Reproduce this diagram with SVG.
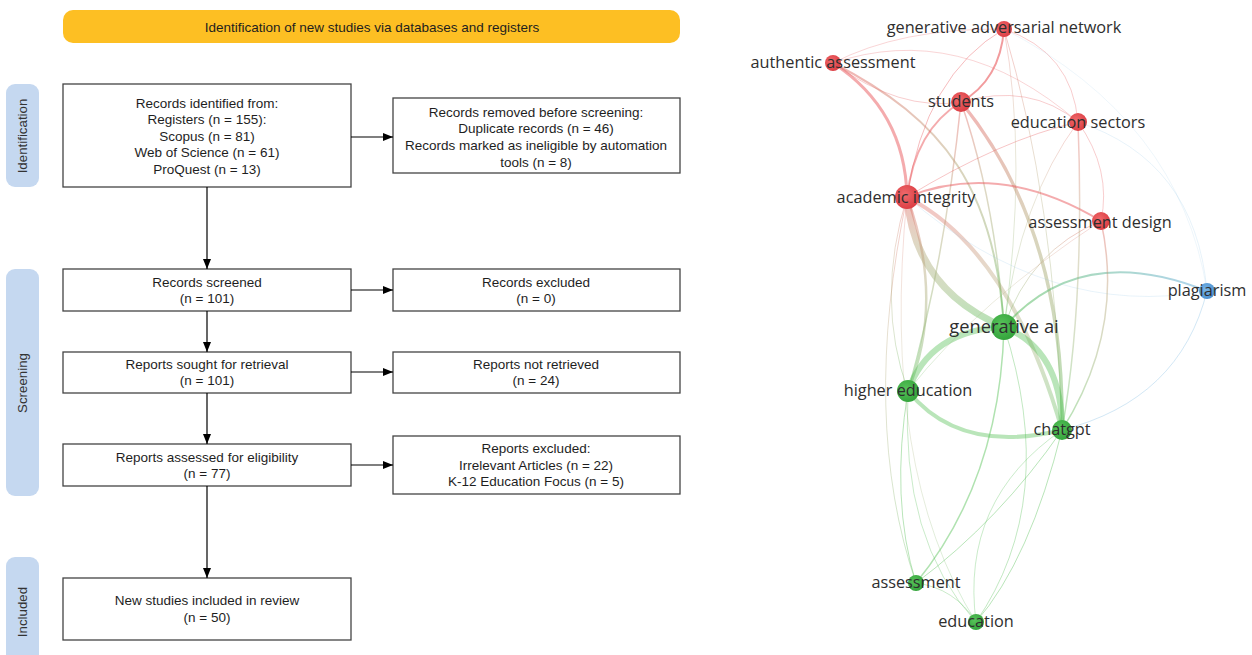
<svg xmlns="http://www.w3.org/2000/svg" width="1252" height="655" viewBox="0 0 1252 655">
<defs>
<marker id="ah" viewBox="0 0 10 10" refX="10" refY="5" markerWidth="10" markerHeight="10" markerUnits="userSpaceOnUse" orient="auto">
<path d="M0,1 L10,5 L0,9 Z" fill="#000"/>
</marker>
<radialGradient id="gr" cx="0.4" cy="0.4" r="0.6"><stop offset="0" stop-color="#f06a6c"/><stop offset="1" stop-color="#dc3f45"/></radialGradient>
<radialGradient id="gg" cx="0.4" cy="0.4" r="0.6"><stop offset="0" stop-color="#58c35a"/><stop offset="1" stop-color="#34a43c"/></radialGradient>
<radialGradient id="gb" cx="0.4" cy="0.4" r="0.6"><stop offset="0" stop-color="#78b4e6"/><stop offset="1" stop-color="#4d92d0"/></radialGradient>
<linearGradient id="rg" x1="0" y1="0" x2="0" y2="1"><stop offset="0" stop-color="#e46a68"/><stop offset="0.35" stop-color="#b9a77c"/><stop offset="0.7" stop-color="#9bb477"/><stop offset="1" stop-color="#5cbf5a"/></linearGradient>
<linearGradient id="gt" x1="0" y1="0" x2="1" y2="0"><stop offset="0" stop-color="#5cbf5a"/><stop offset="1" stop-color="#6fb1e0"/></linearGradient>
</defs>
<style>
.box{fill:#fff;stroke:#444;stroke-width:1.3}
.bt{font-family:"Liberation Sans",Arial,sans-serif;font-size:13.5px;fill:#1e1e1e;text-anchor:middle}
.pill{fill:#c5d8f0}
.pt{font-family:"Liberation Sans",Arial,sans-serif;font-size:13.3px;fill:#333;text-anchor:middle}
.ar{stroke:#000;stroke-width:1.2;fill:none;marker-end:url(#ah)}
.e{fill:none;stroke-linecap:round}
.r{stroke:#e9585c}
.g{stroke:#4fbe50}
.m{stroke:url(#rg)}
.t{stroke:url(#gt)}
.b{stroke:#8ec4e6}
.lab{font-family:"Open Sans","Noto Sans",sans-serif;font-size:16.3px;fill:#2e2e2e;text-anchor:middle}
</style>
<rect width="1252" height="655" fill="#fff"/>

<!-- PRISMA -->
<g id="banner">
<rect x="63" y="10" width="617" height="33" rx="10" fill="#fdbf23"/>
<text class="bt" x="372" y="32">Identification of new studies via databases and registers</text>
</g>
<g id="phase-identification">
<rect class="pill" x="6" y="84" width="33" height="103" rx="9"/>
<text class="pt" transform="translate(27,136) rotate(-90)">Identification</text>
</g>
<g id="phase-screening">
<rect class="pill" x="6" y="269" width="33" height="227" rx="9"/>
<text class="pt" transform="translate(27,383) rotate(-90)">Screening</text>
</g>
<g id="phase-included">
<rect class="pill" x="6" y="557" width="33" height="110" rx="9"/>
<text class="pt" transform="translate(27,612) rotate(-90)">Included</text>
</g>

<g id="records-identified">
<rect class="box" x="63" y="84" width="288" height="103"/>
<text class="bt" x="207" y="108">Records identified from:</text>
<text class="bt" x="207" y="124">Registers (n = 155):</text>
<text class="bt" x="207" y="141">Scopus (n = 81)</text>
<text class="bt" x="207" y="157">Web of Science (n = 61)</text>
<text class="bt" x="207" y="174">ProQuest (n = 13)</text>
</g>
<g id="records-removed">
<rect class="box" x="393" y="98" width="287" height="75"/>
<text class="bt" x="536" y="117">Records removed before screening:</text>
<text class="bt" x="536" y="133">Duplicate records (n = 46)</text>
<text class="bt" x="536" y="150">Records marked as ineligible by automation</text>
<text class="bt" x="536" y="167">tools (n = 8)</text>
</g>
<g id="records-screened">
<rect class="box" x="63" y="269" width="288" height="42"/>
<text class="bt" x="207" y="287">Records screened</text>
<text class="bt" x="207" y="303">(n = 101)</text>
</g>
<g id="records-excluded">
<rect class="box" x="393" y="269" width="287" height="42"/>
<text class="bt" x="536" y="287">Records excluded</text>
<text class="bt" x="536" y="303">(n = 0)</text>
</g>
<g id="reports-sought">
<rect class="box" x="63" y="352" width="288" height="41"/>
<text class="bt" x="207" y="369">Reports sought for retrieval</text>
<text class="bt" x="207" y="385">(n = 101)</text>
</g>
<g id="reports-not-retrieved">
<rect class="box" x="393" y="352" width="287" height="41"/>
<text class="bt" x="536" y="369">Reports not retrieved</text>
<text class="bt" x="536" y="385">(n = 24)</text>
</g>
<g id="reports-assessed">
<rect class="box" x="63" y="444" width="288" height="42"/>
<text class="bt" x="207" y="462">Reports assessed for eligibility</text>
<text class="bt" x="207" y="478">(n = 77)</text>
</g>
<g id="reports-excluded">
<rect class="box" x="393" y="436" width="287" height="58"/>
<text class="bt" x="536" y="453">Reports excluded:</text>
<text class="bt" x="536" y="470">Irrelevant Articles (n = 22)</text>
<text class="bt" x="536" y="486">K-12 Education Focus (n = 5)</text>
</g>
<g id="new-studies">
<rect class="box" x="63" y="578" width="288" height="62"/>
<text class="bt" x="207" y="605">New studies included in review</text>
<text class="bt" x="207" y="622">(n = 50)</text>
</g>

<g id="flow-connectors">
<line class="ar" x1="207" y1="187" x2="207" y2="269"/>
<line class="ar" x1="207" y1="311" x2="207" y2="352"/>
<line class="ar" x1="207" y1="393" x2="207" y2="444"/>
<line class="ar" x1="207" y1="486" x2="207" y2="578"/>
<line class="ar" x1="351" y1="137" x2="393" y2="137"/>
<line class="ar" x1="351" y1="290" x2="393" y2="290"/>
<line class="ar" x1="351" y1="372" x2="393" y2="372"/>
<line class="ar" x1="351" y1="465" x2="393" y2="465"/>
</g>

<!-- Network -->
<g id="network-edges">
<path class="e r" stroke-width="1" opacity="0.25" d="M833,63 Q900,28 1004,29"/>
<path class="e r" stroke-width="1" opacity="0.25" d="M833,63 Q960,20 1078,122"/>
<path class="e r" stroke-width="1" opacity="0.3" d="M833,63 Q900,112 961,102"/>
<path class="e r" stroke-width="3" opacity="0.5" d="M833,63 Q905,110 907,197"/>
<path class="e m" stroke-width="2" opacity="0.5" d="M833,63 C945,120 995,190 1004,327"/>
<path class="e r" stroke-width="2" opacity="0.6" d="M1004,29 Q1000,80 961,102"/>
<path class="e r" stroke-width="1" opacity="0.4" d="M1004,29 Q925,75 907,197"/>
<path class="e r" stroke-width="1" opacity="0.3" d="M1004,29 Q1072,52 1078,122"/>
<path class="e m" stroke-width="1" opacity="0.35" d="M1004,29 Q1055,200 1062,430"/>
<path class="e m" stroke-width="1" opacity="0.3" d="M1004,29 Q1028,160 1004,327"/>
<path class="e r" stroke-width="2" opacity="0.5" d="M961,102 Q915,130 907,197"/>
<path class="e m" stroke-width="3.5" opacity="0.5" d="M961,102 Q1065,230 1062,430"/>
<path class="e m" stroke-width="1.5" opacity="0.45" d="M961,102 Q945,260 908,391"/>
<path class="e r" stroke-width="1" opacity="0.3" d="M961,102 Q1030,82 1078,122"/>
<path class="e m" stroke-width="1.5" opacity="0.45" d="M961,102 Q995,200 1004,327"/>
<path class="e m" stroke-width="7" opacity="0.45" d="M907,197 Q915,290 1004,327"/>
<path class="e m" stroke-width="4" opacity="0.4" d="M907,197 Q1010,250 1062,430"/>
<path class="e r" stroke-width="2" opacity="0.5" d="M907,197 Q1000,160 1101,221"/>
<path class="e m" stroke-width="2.5" opacity="0.45" d="M907,197 Q945,300 908,391"/>
<path class="e m" stroke-width="1" opacity="0.35" d="M907,197 Q875,300 908,391"/>
<path class="e r" stroke-width="1" opacity="0.35" d="M907,197 Q1000,140 1078,122"/>
<path class="e m" stroke-width="1" opacity="0.35" d="M907,197 Q860,420 916,583"/>
<path class="e m" stroke-width="1" opacity="0.25" d="M907,197 Q880,470 976,622"/>
<path class="e g" stroke-width="6" opacity="0.4" d="M1004,327 Q930,330 908,391"/>
<path class="e g" stroke-width="6" opacity="0.4" d="M1004,327 Q1062,350 1062,430"/>
<path class="e g" stroke-width="4" opacity="0.4" d="M908,391 Q960,455 1062,430"/>
<path class="e t" stroke-width="2" opacity="0.55" d="M1004,327 Q1080,240 1207,291"/>
<path class="e b" stroke-width="1" opacity="0.4" d="M1207,291 Q1180,400 1062,430"/>
<path class="e b" stroke-width="1" opacity="0.2" d="M1207,291 Q1050,320 907,197"/>
<path class="e b" stroke-width="1" opacity="0.2" d="M1207,291 Q1195,160 1078,122"/>
<path class="e b" stroke-width="1" opacity="0.15" d="M1207,291 Q1180,120 1004,29"/>
<path class="e m" stroke-width="1.5" opacity="0.45" d="M1101,221 Q1125,330 1062,430"/>
<path class="e m" stroke-width="1" opacity="0.4" d="M1101,221 Q1030,250 1004,327"/>
<path class="e m" stroke-width="1" opacity="0.25" d="M1101,221 Q980,300 908,391"/>
<path class="e m" stroke-width="1" opacity="0.3" d="M1078,122 Q1020,200 1004,327"/>
<path class="e m" stroke-width="1.5" opacity="0.4" d="M1078,122 Q1085,300 1062,430"/>
<path class="e r" stroke-width="1" opacity="0.3" d="M1078,122 Q1112,170 1101,221"/>
<path class="e g" stroke-width="1" opacity="0.4" d="M908,391 Q890,500 916,583"/>
<path class="e g" stroke-width="1.5" opacity="0.45" d="M1004,327 Q1000,480 916,583"/>
<path class="e g" stroke-width="1" opacity="0.4" d="M1062,430 Q1000,520 916,583"/>
<path class="e g" stroke-width="1" opacity="0.4" d="M1062,430 Q1030,560 976,622"/>
<path class="e g" stroke-width="1" opacity="0.35" d="M1004,327 Q1060,500 976,622"/>
<path class="e g" stroke-width="1" opacity="0.3" d="M908,391 Q900,540 976,622"/>
<path class="e g" stroke-width="1" opacity="0.3" d="M916,583 Q955,588 976,622"/>
<path class="e g" stroke-width="1" opacity="0.3" d="M1062,430 Q960,500 976,622"/>
</g>

<g id="node-gan"><circle cx="1004" cy="29" r="8" fill="url(#gr)"/><text class="lab" x="1004" y="33">generative adversarial network</text></g>
<g id="node-authentic-assessment"><circle cx="833" cy="63" r="8" fill="url(#gr)"/><text class="lab" x="833" y="68">authentic assessment</text></g>
<g id="node-students"><circle cx="961" cy="102" r="10" fill="url(#gr)"/><text class="lab" x="961" y="107">students</text></g>
<g id="node-education-sectors"><circle cx="1078" cy="122" r="9" fill="url(#gr)"/><text class="lab" x="1078" y="128">education sectors</text></g>
<g id="node-academic-integrity"><circle cx="907" cy="197" r="12" fill="url(#gr)"/><text class="lab" x="906" y="203">academic integrity</text></g>
<g id="node-assessment-design"><circle cx="1101" cy="221" r="9" fill="url(#gr)"/><text class="lab" x="1100" y="228">assessment design</text></g>
<g id="node-plagiarism"><circle cx="1207" cy="291" r="8" fill="url(#gb)"/><text class="lab" x="1207" y="296">plagiarism</text></g>
<g id="node-generative-ai"><circle cx="1004" cy="327" r="13" fill="url(#gg)"/><text class="lab" x="1004" y="333" style="font-size:18.3px">generative ai</text></g>
<g id="node-higher-education"><circle cx="908" cy="391" r="11" fill="url(#gg)"/><text class="lab" x="908" y="396">higher education</text></g>
<g id="node-chatgpt"><circle cx="1062" cy="430" r="10" fill="url(#gg)"/><text class="lab" x="1062" y="435">chatgpt</text></g>
<g id="node-assessment"><circle cx="916" cy="583" r="8" fill="url(#gg)"/><text class="lab" x="916" y="588">assessment</text></g>
<g id="node-education"><circle cx="976" cy="622" r="8" fill="url(#gg)"/><text class="lab" x="976" y="627">education</text></g>
</svg>
